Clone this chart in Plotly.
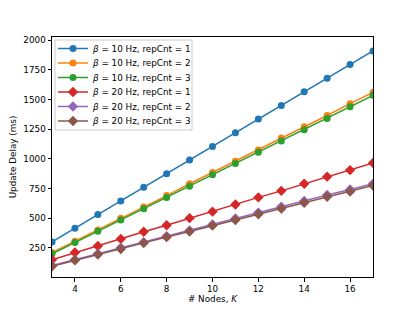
import plotly.graph_objects as go

nodes = list(range(3, 18))
series_names = [
    "<i>β</i> = 10 Hz, repCnt = 1",
    "<i>β</i> = 10 Hz, repCnt = 2",
    "<i>β</i> = 10 Hz, repCnt = 3",
    "<i>β</i> = 20 Hz, repCnt = 1",
    "<i>β</i> = 20 Hz, repCnt = 2",
    "<i>β</i> = 20 Hz, repCnt = 3",
]
b10_r1 = [300, 415, 530, 645, 760, 875, 990, 1105, 1220, 1335, 1450, 1565, 1680, 1795, 1910]
b10_r2 = [210, 305, 400, 500, 595, 690, 790, 885, 980, 1075, 1175, 1270, 1365, 1465, 1560]
b10_r3 = [200, 295, 390, 485, 580, 675, 770, 865, 960, 1055, 1150, 1245, 1340, 1440, 1535]
b20_r1 = [150, 210, 265, 325, 385, 440, 500, 555, 615, 675, 730, 790, 850, 905, 965]
b20_r2 = [100, 150, 200, 250, 297, 347, 397, 447, 497, 547, 597, 645, 695, 742, 790]
b20_r3 = [95, 145, 193, 240, 290, 340, 388, 437, 485, 533, 580, 630, 680, 725, 775]

series = [b10_r1, b10_r2, b10_r3, b20_r1, b20_r2, b20_r3]
colors = ["#1f77b4", "#ff7f0e", "#2ca02c", "#d62728", "#9467bd", "#8c564b"]
symbols = ["circle", "circle", "circle", "diamond", "diamond", "diamond"]

# layout geometry (pixels); the page body adds an 8px offset
W, H = 415, 311
OFF = 8
L_PX, R_PX, T_PX, B_PX = 52, 373, 37, 277  # target plot area in screenshot
ML, MT = L_PX - OFF, T_PX - OFF
PW, PH = R_PX - L_PX, B_PX - T_PX
MR, MB = W - ML - PW, H - MT - PH

font = dict(family="DejaVu Sans", size=8.8, color="black")

def px_x(x):
    return (x - L_PX) / PW

def px_y(y):
    return 1 - (y - T_PX) / PH

fig = go.Figure()
legend_layout = {}
row0, row_step = 48.5, 14.5
for i, (name, ys, c, s) in enumerate(zip(series_names, series, colors, symbols)):
    lname = "legend" if i == 0 else f"legend{i + 1}"
    fig.add_trace(go.Scatter(
        x=nodes, y=ys, mode="lines+markers", name=name,
        line=dict(color=c, width=1.5),
        marker=dict(color=c, symbol=s, size=7 if s == "circle" else 8),
        legend=lname,
    ))
    legend_layout[lname] = dict(
        x=px_x(53), y=px_y(row0 + i * row_step),
        xanchor="left", yanchor="middle",
        bgcolor="rgba(0,0,0,0)", borderwidth=0, font=font,
    )

fig.update_layout(
    width=W, height=H,
    margin=dict(l=ML, r=MR, t=MT, b=MB),
    paper_bgcolor="white", plot_bgcolor="white",
    font=font,
    showlegend=True,
    xaxis=dict(
        title=dict(text="# Nodes, <i>K</i>", font=font, standoff=2),
        range=[3, 17], tickvals=[4, 6, 8, 10, 12, 14, 16],
        showline=True, linecolor="black", linewidth=1, mirror=True,
        ticks="outside", ticklen=3.5, tickcolor="black",
        showgrid=False, zeroline=False, automargin=False,
    ),
    yaxis=dict(
        title=dict(text="Update Delay (ms)", font=font, standoff=6),
        range=[4, 2027], tickvals=[250, 500, 750, 1000, 1250, 1500, 1750, 2000],
        showline=True, linecolor="black", linewidth=1, mirror=True,
        ticks="outside", ticklen=3.5, tickcolor="black",
        showgrid=False, zeroline=False, automargin=False,
    ),
    shapes=[dict(
        type="rect", xref="paper", yref="paper",
        x0=px_x(55), x1=px_x(192),
        y0=px_y(130), y1=px_y(40),
        line=dict(color="#cccccc", width=1), fillcolor="rgba(255,255,255,0.8)",
        layer="above",
    )],
    **legend_layout,
)
fig.write_html("out.html")
